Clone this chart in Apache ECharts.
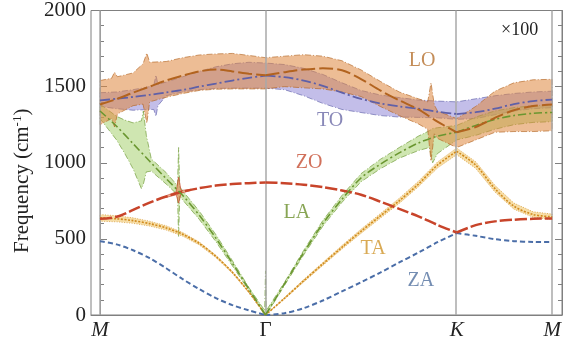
<!DOCTYPE html>
<html>
<head>
<meta charset="utf-8">
<script src="https://cdn.jsdelivr.net/npm/echarts@6/dist/echarts.min.js"></script>
<style>
  html, body { margin: 0; padding: 0; background: #fff; }
  #chart { width: 574px; height: 347px; }
</style>
</head>
<body>
<div id="chart"></div>
<script>
// k-path: M -> Gamma -> K -> M (path length, Gamma-M = 1)
const kGrid = [0, 0.1, 0.2, 0.3, 0.4, 0.5, 0.6, 0.7, 0.8, 0.9, 1,
  1.115, 1.231, 1.346, 1.462, 1.577, 1.693, 1.808, 1.924, 2.039, 2.155,
  2.270, 2.386, 2.501, 2.617, 2.732];
const symK = [0, 1, 2.155, 2.732];
const symLabels = ['M', 'Γ', 'K', 'M'];
const yTicks = [0, 500, 1000, 1500, 2000];

// branch centre lines (cm^-1) on kGrid
const za = [484, 464, 425, 373, 307, 235, 170, 111, 65, 30, 0, 12, 45, 95, 155, 215, 278, 345, 410, 478, 538, 520, 498, 485, 480, 479];
const ta = [638, 632, 620, 600, 572, 530, 470, 385, 280, 150, 0, 110, 225, 335, 445, 550, 650, 750, 860, 985, 1075, 985, 830, 715, 660, 645];
const zo = [632, 645, 690, 738, 778, 810, 833, 850, 860, 866, 871, 866, 856, 840, 818, 790, 745, 697, 648, 592, 542, 590, 615, 626, 632, 634];
const la = [1340, 1240, 1125, 1010, 895, 785, 655, 505, 340, 170, 0, 205, 410, 600, 760, 900, 990, 1065, 1130, 1175, 1200, 1245, 1285, 1310, 1325, 1330];
const to = [1410, 1420, 1432, 1446, 1462, 1478, 1500, 1520, 1540, 1558, 1572, 1562, 1540, 1505, 1460, 1420, 1390, 1370, 1355, 1335, 1320, 1332, 1355, 1385, 1405, 1415];
const lo = [1383, 1418, 1460, 1500, 1540, 1572, 1600, 1612, 1600, 1585, 1575, 1595, 1612, 1620, 1608, 1550, 1475, 1410, 1350, 1270, 1200, 1235, 1295, 1345, 1372, 1383];

// uncertainty bands [k, low, high]
const taErr = [22, 20, 18, 16, 14, 12, 10, 8, 6, 4, 0, 5, 8, 10, 12, 14, 15, 17, 18, 20, 22, 22, 22, 20, 18, 18];
const loBand = [
  [0, 1250, 1540], [0.07, 1290, 1555], [0.088, 1235, 1595], [0.105, 1320, 1565],
  [0.2, 1375, 1590], [0.26, 1385, 1650], [0.283, 1260, 1720], [0.3, 1400, 1660],
  [0.4, 1430, 1665], [0.5, 1455, 1690], [0.6, 1475, 1708], [0.7, 1483, 1715],
  [0.8, 1485, 1718], [0.9, 1485, 1705], [1, 1485, 1690],
  [1.115, 1500, 1700], [1.231, 1492, 1710], [1.346, 1485, 1700], [1.462, 1465, 1670],
  [1.577, 1435, 1610], [1.693, 1370, 1535], [1.808, 1310, 1465], [1.924, 1255, 1420],
  [1.98, 1220, 1400], [2.0, 1010, 1525], [2.02, 1190, 1380], [2.039, 1160, 1340],
  [2.155, 1100, 1290], [2.270, 1150, 1370], [2.386, 1200, 1470], [2.501, 1205, 1525],
  [2.617, 1205, 1545], [2.732, 1210, 1548]
];
const toBand = [
  [0, 1370, 1460], [0.1, 1355, 1465], [0.2, 1345, 1480], [0.3, 1350, 1500],
  [0.325, 1350, 1508], [0.338, 1305, 1575], [0.35, 1375, 1515], [0.4, 1440, 1530],
  [0.5, 1465, 1565], [0.6, 1480, 1600], [0.7, 1488, 1630], [0.8, 1490, 1650],
  [0.9, 1490, 1660], [1, 1490, 1655],
  [1.115, 1480, 1645], [1.231, 1440, 1620], [1.346, 1390, 1580], [1.462, 1350, 1525],
  [1.577, 1330, 1475], [1.693, 1310, 1445], [1.808, 1300, 1428], [1.924, 1298, 1412],
  [2.039, 1295, 1405], [2.155, 1285, 1400],
  [2.270, 1290, 1420], [2.386, 1315, 1440], [2.501, 1340, 1455], [2.617, 1355, 1465], [2.732, 1362, 1470]
];
const laBand = [
  [0, 1290, 1385], [0.05, 1220, 1345], [0.1, 1150, 1305], [0.15, 1060, 1280],
  [0.2, 960, 1262], [0.25, 830, 1275], [0.262, 860, 1340], [0.28, 940, 1180],
  [0.31, 945, 1025], [0.4, 860, 935], [0.468, 790, 850], [0.475, 510, 1100],
  [0.482, 780, 840], [0.5, 755, 815], [0.6, 628, 682], [0.7, 482, 528],
  [0.8, 323, 357], [0.9, 160, 180], [0.995, 0, 30], [1, 0, 290], [1.005, 0, 30],
  [1.115, 195, 215], [1.231, 395, 425], [1.346, 583, 620], [1.462, 740, 785],
  [1.577, 875, 928], [1.693, 960, 1022], [1.808, 1030, 1100], [1.924, 1080, 1175],
  [1.99, 1100, 1210], [2.01, 1000, 1225], [2.039, 1060, 1230], [2.155, 1150, 1245],
  [2.270, 1180, 1300], [2.386, 1220, 1340], [2.501, 1250, 1362], [2.617, 1265, 1375], [2.732, 1270, 1380]
];
const zoBand = [
  [0.4, 772, 784], [0.46, 790, 808], [0.475, 735, 905], [0.49, 800, 818], [0.55, 818, 826]
];

// branch labels [text, k, freq]
const branchLabels = [
  ['LO', 1.946, 1667], ['TO', 1.39, 1275], ['ZO', 1.263, 1000],
  ['LA', 1.19, 673], ['TA', 1.65, 438], ['ZA', 1.939, 222]
];

const serif = "'Liberation Serif', serif";
const colors = {
  ZA: '#4b6ea8', TA: '#d08a1e', ZO: '#c8442a', LA: '#6a9630', TO: '#5f60a8', LO: '#b2631f'
};
const labelColors = {
  LO: '#b5712e', TO: '#6b6aa6', ZO: '#c64d32', LA: '#6a8e2a', TA: '#cf952b', ZA: '#51719f'
};
const segRanges = [[0, 10], [10, 20], [20, 25]];

function lineSeries(name, values, color, dash, width, z) {
  return segRanges.map(function (r) {
    const pts = [];
    for (let i = r[0]; i <= r[1]; i++) pts.push([kGrid[i], values[i]]);
    return {
      type: 'line', name: name, data: pts, smooth: 0.3,
      showSymbol: false, symbol: 'none', silent: true, z: z,
      lineStyle: { color: color, width: width, type: dash }
    };
  });
}

function bandSeries(name, band, fill, stroke, dash, z) {
  return {
    type: 'custom', name: name, data: band, silent: true, clip: true, z: z,
    encode: { x: 0, y: [1, 2] },
    renderItem: function (params, api) {
      if (params.dataIndex !== 0) return null;
      const upper = band.map(function (p) { return api.coord([p[0], p[2]]); });
      const lower = band.slice().reverse().map(function (p) { return api.coord([p[0], p[1]]); });
      return {
        type: 'polygon',
        shape: { points: upper.concat(lower) },
        style: { fill: fill, stroke: stroke, lineWidth: 0.8, lineDash: dash }
      };
    }
  };
}

const taBand = kGrid.map(function (k, i) { return [k, ta[i] - taErr[i], ta[i] + taErr[i]]; });

const chart = echarts.init(document.getElementById('chart'), null, { renderer: 'canvas' });

const series = [].concat(
  [{
    type: 'line', data: [], silent: true, z: 1,
    markLine: {
      symbol: 'none', silent: true, animation: false,
      label: { show: false },
      lineStyle: { color: '#a9a9a9', width: 1.5, type: 'solid' },
      data: symK.map(function (k) { return { xAxis: k }; })
    }
  }],
  [bandSeries('TO band', toBand, 'rgba(130,120,210,0.48)', 'rgba(95,96,168,0.8)', [6, 2, 1, 2], 2)],
  [bandSeries('LA band', laBand, 'rgba(160,205,100,0.5)', 'rgba(106,150,48,0.8)', [6, 2, 1, 2], 3)],
  [bandSeries('LO band', loBand, 'rgba(222,135,62,0.55)', 'rgba(178,99,31,0.8)', [6, 2, 1, 2], 4)],
  [bandSeries('TA band', taBand, 'rgba(240,190,80,0.5)', 'rgba(208,138,30,0.8)', [1, 1.5], 3)],
  [bandSeries('ZO band', zoBand, 'rgba(225,120,70,0.55)', 'rgba(200,68,42,0.8)', null, 5)],
  lineSeries('ZA', za, colors.ZA, [5, 3], 2, 6),
  lineSeries('TA', ta, colors.TA, [2, 1.5], 1.6, 6),
  lineSeries('ZO', zo, colors.ZO, [12, 3], 2.5, 7),
  lineSeries('LA', la, colors.LA, [8, 3, 2, 3], 1.6, 7),
  lineSeries('TO', to, colors.TO, [10, 3, 2, 3], 1.8, 8),
  lineSeries('LO', lo, colors.LO, [14, 4], 2, 9),
  [{
    type: 'scatter', symbolSize: 0, silent: true, z: 20,
    data: branchLabels.map(function (b) {
      return {
        value: [b[1], b[2]], name: b[0],
        label: { color: labelColors[b[0]] }
      };
    }),
    label: {
      show: true, position: 'inside', formatter: '{b}',
      fontFamily: serif, fontSize: 20
    }
  }]
);

const option = {
  animation: false,
  backgroundColor: '#fff',
  grid: { left: 91, right: 12, top: 9, bottom: 32, show: true, borderColor: '#808080', borderWidth: 1 },
  xAxis: {
    type: 'value', min: -0.0544, max: 2.7915,
    axisLine: { show: true, lineStyle: { color: '#808080' } },
    axisTick: { show: false },
    splitLine: { show: false },
    axisLabel: {
      customValues: symK,
      margin: 5,
      formatter: function (v) {
        let idx = 0;
        symK.forEach(function (k, i) { if (Math.abs(k - v) < Math.abs(symK[idx] - v)) idx = i; });
        const t = symLabels[idx];
        return t === 'Γ' ? '{up|' + t + '}' : '{it|' + t + '}';
      },
      rich: {
        it: { fontFamily: serif, fontStyle: 'italic', fontSize: 21, color: '#222' },
        up: { fontFamily: serif, fontSize: 21, color: '#222' }
      }
    }
  },
  yAxis: [
    {
      type: 'value', min: yTicks[0], max: yTicks[yTicks.length - 1], interval: 500,
      position: 'left',
      axisLine: { show: true, lineStyle: { color: '#808080' } },
      axisTick: { show: true, inside: true, length: 7, lineStyle: { color: '#808080' } },
      minorTick: { show: true, splitNumber: 5, length: 4, lineStyle: { color: '#808080' } },
      splitLine: { show: false },
      axisLabel: {
        fontFamily: serif, fontSize: 21, color: '#222', margin: 5,
        formatter: function (v) { return String(v); }
      },
      name: 'Frequency (cm{sup|-1})',
      nameLocation: 'middle', nameGap: 46, nameRotate: 90,
      nameTextStyle: {
        fontFamily: serif, fontSize: 21, color: '#222',
        padding: [0, 36, 0, 0],
        rich: {
          sup: { fontFamily: serif, fontSize: 13, color: '#222', verticalAlign: 'bottom', padding: [0, 0, 10, 0] }
        }
      }
    },
    {
      type: 'value', min: yTicks[0], max: yTicks[yTicks.length - 1], interval: 500,
      position: 'right',
      axisLine: { show: true, lineStyle: { color: '#808080' } },
      axisTick: { show: true, inside: true, length: 7, lineStyle: { color: '#808080' } },
      minorTick: { show: true, splitNumber: 5, length: 4, lineStyle: { color: '#808080' } },
      splitLine: { show: false },
      axisLabel: { show: false }
    }
  ],
  graphic: [{
    type: 'text', left: 501, top: 21, silent: true,
    style: { text: '×100', fontFamily: serif, fontSize: 18, fill: '#222' }
  }],
  series: series
};

chart.setOption(option);
</script>
</body>
</html>
